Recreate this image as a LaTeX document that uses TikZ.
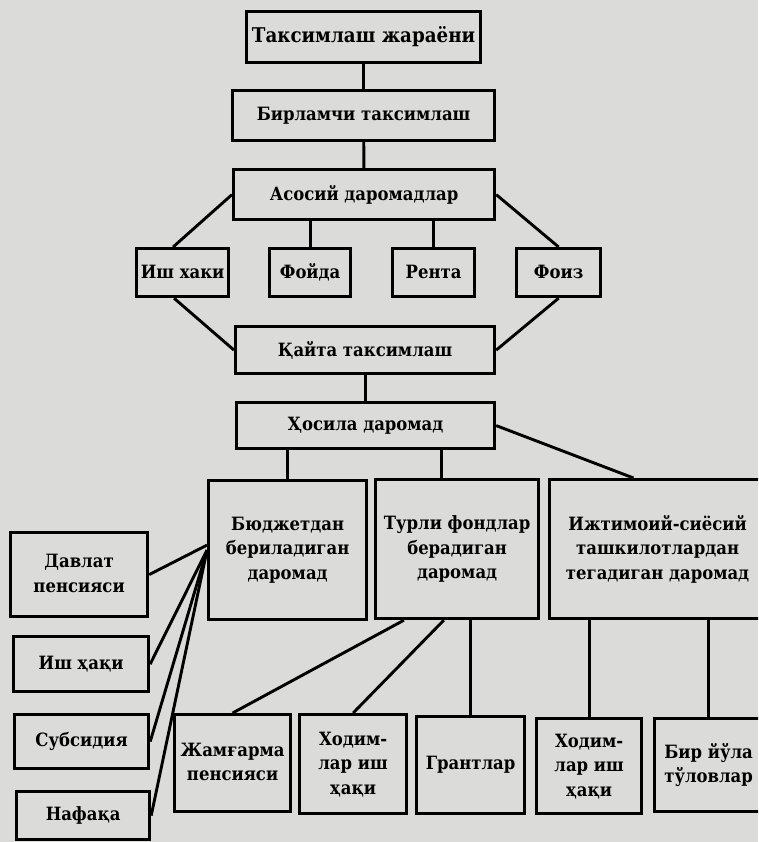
\documentclass[tikz,border=0pt]{standalone}
\usepackage{fontspec}
\setmainfont{DejaVu Serif Condensed}
\usetikzlibrary{calc}
\tikzset{
  box/.style={draw=black, line width=3.2pt, inner sep=0pt, align=center, anchor=north west,
    font=\bfseries\fontsize{18.3}{24.5}\selectfont, text=black,
    execute at begin node=\vphantom{Фд}},
  conn/.style={draw=black, line width=2.9pt}
}
\newcommand{\bx}[6]{\node[box, minimum width=#4pt, minimum height=#5pt] (#1) at (#2,#3) {#6};}
\begin{document}
\begin{tikzpicture}[x=1pt,y=-1pt]
\fill[color={rgb,255:red,219;green,219;blue,217}] (0,0) rectangle (758,842);
\useasboundingbox (0,0) rectangle (758,842);
\clip (0,0) rectangle (758,842);
% top chain
\bx{top}{245}{10}{234}{51}{\fontsize{20.3}{26}\selectfont Таксимлаш жараёни}
\bx{birl}{231}{89}{262}{50}{Бирламчи таксимлаш}
\bx{asos}{232}{168}{261}{50}{Асосий даромадлар}
\bx{ish}{135}{247}{92}{48}{Иш хаки}
\bx{foyda}{268}{247}{81}{48}{Фойда}
\bx{renta}{391}{247}{82}{48}{Рента}
\bx{foiz}{515}{247}{84}{48}{Фоиз}
\bx{qayta}{234}{325}{259}{47}{Қайта таксимлаш}
\bx{hosila}{235}{401}{258}{46}{Ҳосила даромад}
% middle row
\bx{budj}{207}{479}{158}{139}{Бюджетдан\\бериладиган\\даромад}
\bx{turli}{374}{478}{163}{139}{Турли фондлар\\берадиган\\даромад}
\bx{ijt}{548}{478}{216}{139}{Ижтимоий-сиёсий\\ташкилотлардан\\тегадиган даромад}
% left column
\bx{davlat}{9}{531}{137}{84}{Давлат\\пенсияси}
\bx{ishhaqi}{12}{635}{135}{55}{Иш ҳақи}
\bx{subs}{13}{713}{134}{54}{Субсидия}
\bx{nafaqa}{15}{790}{133}{48}{Нафақа}
% bottom row
\bx{jamg}{173}{713}{116}{97}{Жамғарма\\пенсияси}
\bx{hodima}{298}{713}{107}{99}{Ходим-\\лар иш\\ҳақи}
\bx{grant}{415}{715}{108}{97}{Грантлар}
\bx{hodimb}{535}{717}{105}{95}{Ходим-\\лар иш\\ҳақи}
\bx{bir}{653}{717}{108}{93}{Бир йўла\\тўловлар}
% connectors
\draw[conn] (top) -- (birl);
\draw[conn] (birl) -- (asos);
\draw[conn] (asos.west) -- ($(ish.north west)!0.4!(ish.north east)$);
\draw[conn] (asos.east) -- (foiz.north);
\draw[conn] (foyda.north |- asos.south) -- (foyda.north);
\draw[conn] (renta.north |- asos.south) -- (renta.north);
\draw[conn] ($(ish.south west)!0.41!(ish.south east)$) -- (qayta.west);
\draw[conn] (foiz.south) -- (qayta.east);
\draw[conn] (qayta.south) -- (qayta.south |- hosila.north);
\draw[conn] (budj.north |- hosila.south) -- (budj.north);
\coordinate (tin) at ($(turli.north west)!0.405!(turli.north east)$);
\draw[conn] (tin |- hosila.south) -- (tin);
\draw[conn] (hosila.east) -- ($(ijt.north west)!0.39!(ijt.north east)$);
\draw[conn] ($(turli.south west)!0.18!(turli.south east)$) -- (jamg.north);
\draw[conn] ($(turli.south west)!0.42!(turli.south east)$) -- (hodima.north);
\draw[conn] (grant.north |- turli.south) -- (grant.north);
\draw[conn] (hodimb.north |- ijt.south) -- (hodimb.north);
\draw[conn] (bir.north |- ijt.south) -- (bir.north);
\draw[conn] ($(budj.west)+(0,-5)$) -- (davlat.east);
\draw[conn] (budj.west) -- (ishhaqi.east);
\draw[conn] (budj.west) -- (subs.east);
\draw[conn] (budj.west) -- (nafaqa.east);
\end{tikzpicture}
\end{document}
